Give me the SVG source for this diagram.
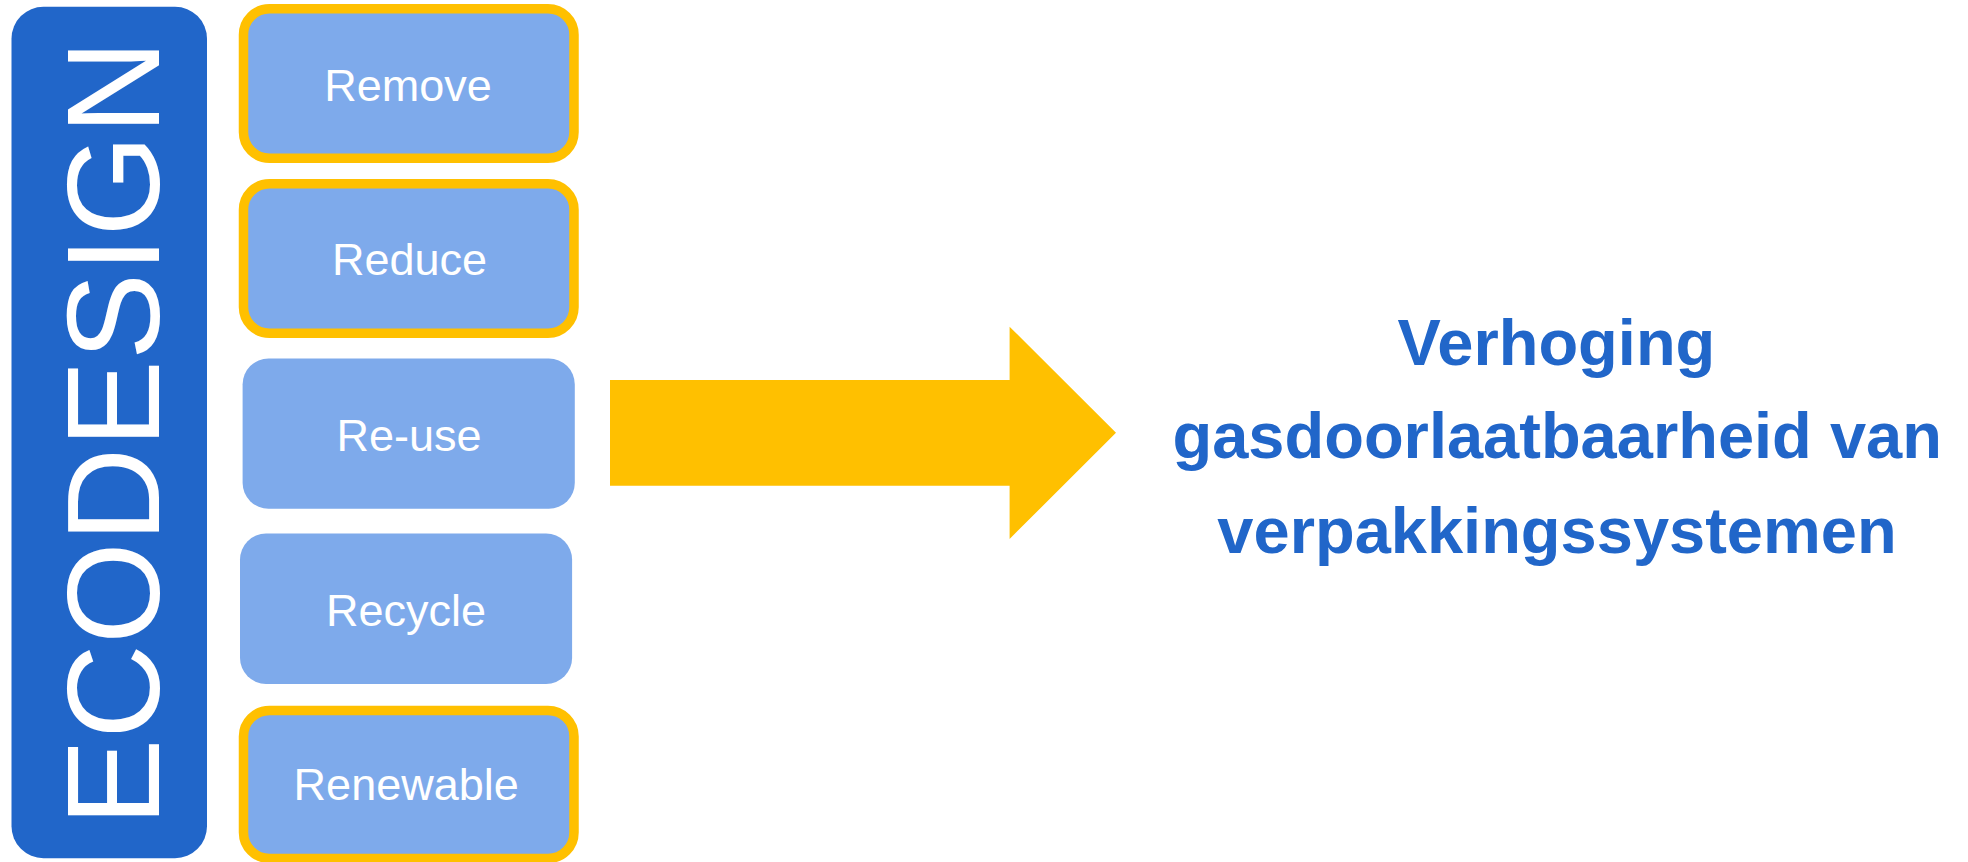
<svg xmlns="http://www.w3.org/2000/svg" width="1968" height="862" viewBox="0 0 1968 862">
  <style>
    .strategy { fill: #7EAAEB; }
    .highlight { stroke: #FFC000; stroke-width: 9.5; }
    .label { font-family: "Liberation Sans", Arial, sans-serif; font-size: 45px; fill: #FFFFFF; text-anchor: middle; }
    .goal { font-family: "Liberation Sans", Arial, sans-serif; font-weight: bold; font-size: 65px; fill: #2166C9; text-anchor: middle; }
  </style>
  <rect width="1968" height="862" fill="#FFFFFF"/>

  <!-- vertical title bar -->
  <g id="ecodesign">
    <rect x="11.5" y="6.7" width="195.5" height="851.5" rx="32" fill="#2166C9"/>
    <text transform="translate(159.3,433) rotate(-90)" text-anchor="middle" font-family="Liberation Sans, Arial, sans-serif" font-size="131" fill="#FFFFFF">ECODESIGN</text>
  </g>

  <!-- strategy boxes -->
  <g id="remove">
    <rect class="strategy highlight" x="243.5" y="8.8" width="330.5" height="149.5" rx="26"/>
    <text class="label" x="408" y="100.7">Remove</text>
  </g>
  <g id="reduce">
    <rect class="strategy highlight" x="243.5" y="183.8" width="330.5" height="149.5" rx="26"/>
    <text class="label" x="409.5" y="275.3">Reduce</text>
  </g>
  <g id="reuse">
    <rect class="strategy" x="242.6" y="358.5" width="332.2" height="150.3" rx="26"/>
    <text class="label" x="409.1" y="450.5">Re-use</text>
  </g>
  <g id="recycle">
    <rect class="strategy" x="240" y="533.6" width="332.1" height="150.3" rx="26"/>
    <text class="label" x="406" y="625.9">Recycle</text>
  </g>
  <g id="renewable">
    <rect class="strategy highlight" x="243.5" y="710.4" width="330.5" height="148" rx="26"/>
    <text class="label" x="406.2" y="800">Renewable</text>
  </g>

  <!-- block arrow -->
  <g id="connectors">
    <polygon points="610,380 1009.6,380 1009.6,326.7 1116,432.7 1009.6,539 1009.6,485.7 610,485.7" fill="#FFC000"/>
  </g>

  <!-- outcome -->
  <g id="goal">
    <text class="goal" x="1556.4" y="365">Verhoging</text>
    <text class="goal" x="1557.2" y="458.3">gasdoorlaatbaarheid van</text>
    <text class="goal" x="1557" y="553.3">verpakkingssystemen</text>
  </g>
</svg>
